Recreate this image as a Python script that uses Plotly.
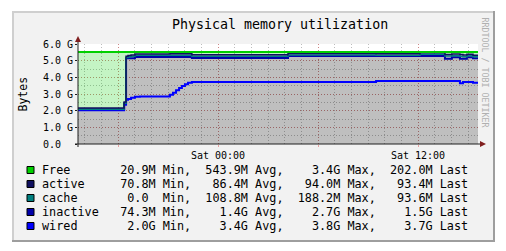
import plotly.graph_objects as go

# ---------------- data ----------------
times = [
    "2010-01-08 15:36", "2010-01-08 18:14", "2010-01-08 18:22", "2010-01-08 18:29",
    "2010-01-08 18:36", "2010-01-08 18:47", "2010-01-08 19:01", "2010-01-08 19:19",
    "2010-01-08 21:07", "2010-01-08 21:18", "2010-01-08 21:29", "2010-01-08 21:40",
    "2010-01-08 21:50", "2010-01-08 22:01", "2010-01-08 22:12", "2010-01-08 22:26",
    "2010-01-09 04:12", "2010-01-09 09:29", "2010-01-09 12:07", "2010-01-09 13:37",
    "2010-01-09 14:02", "2010-01-09 14:31", "2010-01-09 14:42", "2010-01-09 14:56",
    "2010-01-09 15:18", "2010-01-09 15:36",
]
# values in GB
wired = [2.02, 2.02, 2.35, 2.65, 2.70, 2.78, 2.83, 2.85, 2.95, 3.08, 3.22, 3.36, 3.48,
         3.58, 3.67, 3.72, 3.72, 3.78, 3.78, 3.78, 3.78, 3.65, 3.72, 3.72, 3.68, 3.68]
inactive = [0.07, 0.07, 0.10, 2.50, 2.45, 2.37, 2.39, 2.37, 2.27, 2.14, 2.00, 1.86, 1.74,
            1.64, 1.55, 1.44, 1.56, 1.50, 1.50, 1.34, 1.42, 1.47, 1.40, 1.48, 1.46, 1.46]
cache = [0.0, 0.0, 0.0, 0.04, 0.08, 0.11, 0.11, 0.11, 0.11, 0.11, 0.11, 0.11, 0.11,
         0.11, 0.11, 0.11, 0.06, 0.05, 0.10, 0.16, 0.10, 0.15, 0.12, 0.09, 0.09, 0.09]
active = [0.071, 0.071, 0.071, 0.075, 0.075, 0.075, 0.075, 0.075, 0.082, 0.082, 0.082,
          0.082, 0.082, 0.082, 0.082, 0.082, 0.088, 0.088, 0.093, 0.093, 0.093, 0.093,
          0.093, 0.093, 0.093, 0.093]
free = [3.36, 3.36, 3.00, 0.26, 0.22, 0.19, 0.12, 0.12, 0.11, 0.11, 0.11, 0.11, 0.11,
        0.11, 0.11, 0.17, 0.09, 0.10, 0.05, 0.15, 0.13, 0.16, 0.19, 0.14, 0.20, 0.20]

x_tick_vals = ["2010-01-08 18:00", "2010-01-09 00:00", "2010-01-09 06:00", "2010-01-09 12:00"]
x_tick_text = ["", "Sat 00:00", "", "Sat 12:00"]
y_tick_vals = [0, 1, 2, 3, 4, 5, 6]
y_tick_text = ["0.0\u00a0\u00a0", "1.0 G", "2.0 G", "3.0 G", "4.0 G", "5.0 G", "6.0 G"]

legend_names = ["Free", "active", "cache", "inactive", "wired"]
legend_min = [(20.9, "M"), (70.8, "M"), (0.0, " "), (74.3, "M"), (2.0, "G")]
legend_avg = [(543.9, "M"), (86.4, "M"), (108.8, "M"), (1.4, "G"), (3.4, "G")]
legend_max = [(3.4, "G"), (94.0, "M"), (188.2, "M"), (2.7, "G"), (3.8, "G")]
legend_last = [(202.0, "M"), (93.4, "M"), (93.6, "M"), (1.5, "G"), (3.7, "G")]

# ---------------- style ----------------
MONO = "DejaVu Sans Mono"
colors = {"Free": "#00d000", "active": "#101060", "cache": "#008080",
          "inactive": "#0000aa", "wired": "#0000ff"}
GRAY_FILL = "rgba(0,0,0,0.25)"
GREEN_FILL = "rgba(0,208,0,0.23)"
GRID = "rgba(143,143,143,0.6)"
MGRID = "rgba(222,79,79,0.5)"
AXIS = "#1f1f1f"
ARROW = "#801f1f"

W, H = 506, 251
L, R, T, B = 78, 478, 44, 144


def px(x):
    return (x - L) / (R - L)


def py(y):
    return (B - y) / (B - T)


fig = go.Figure()
stack = [("wired", wired, GRAY_FILL, 2), ("inactive", inactive, GRAY_FILL, 2),
         ("cache", cache, GRAY_FILL, 1.5), ("active", active, GRAY_FILL, 1.5),
         ("Free", free, GREEN_FILL, 2)]
for name, vals, fc, lw in stack:
    fig.add_trace(go.Scatter(
        x=times, y=vals, name=name, stackgroup="mem", mode="lines",
        line=dict(color=colors[name], width=lw, shape="hv"),
        fillcolor=fc, showlegend=False, hoverinfo="skip"))

shapes = []
# white surroundings of the panel
for x0, x1, y0, y1 in [(0, 12, 0, H), (495, W, 0, H), (0, W, 0, 11), (0, W, 242, H)]:
    shapes.append(dict(type="rect", xref="paper", yref="paper", x0=px(x0), x1=px(x1),
                       y0=py(y1), y1=py(y0), fillcolor="white", line=dict(width=0)))
# 3D frame
for x0, x1, y0, y1, c in [(12, 14, 11, 242, "#cfcfcf"), (12, 495, 11, 13, "#cfcfcf"),
                          (493, 495, 11, 242, "#9e9e9e"), (12, 495, 240, 242, "#9e9e9e")]:
    shapes.append(dict(type="rect", xref="paper", yref="paper", x0=px(x0), x1=px(x1),
                       y0=py(y1), y1=py(y0), fillcolor=c, line=dict(width=0)))
# axes with arrows
shapes.append(dict(type="line", xref="paper", yref="paper", x0=px(75), x1=px(481),
                   y0=0, y1=0, line=dict(color=AXIS, width=1)))
shapes.append(dict(type="line", xref="paper", yref="paper", x0=0, x1=0,
                   y0=py(147), y1=py(40), line=dict(color=AXIS, width=1)))
shapes.append(dict(type="path", xref="paper", yref="paper",
                   path=f"M {px(486)} {py(144)} L {px(480)} {py(141)} L {px(480)} {py(147)} Z",
                   fillcolor=ARROW, line=dict(width=0)))
shapes.append(dict(type="path", xref="paper", yref="paper",
                   path=f"M {px(78)} {py(36)} L {px(75)} {py(42)} L {px(81)} {py(42)} Z",
                   fillcolor=ARROW, line=dict(width=0)))

annotations = []
annotations.append(dict(text="Physical memory utilization", x=px(279.5), y=py(24),
                        xref="paper", yref="paper", showarrow=False, xanchor="center",
                        yanchor="middle", font=dict(family=MONO, size=13.3, color="black")))
annotations.append(dict(text="Bytes", x=px(22), y=py(93.5), xref="paper", yref="paper",
                        showarrow=False, textangle=-90, xanchor="center", yanchor="middle",
                        font=dict(family=MONO, size=11.5, color="black")))
annotations.append(dict(text="RRDTOOL / TOBI OETIKER", x=px(484.5), y=py(72),
                        xref="paper", yref="paper", showarrow=False, textangle=90,
                        xanchor="center", yanchor="middle",
                        font=dict(family=MONO, size=8.3, color="#b0b0b0")))


def fmt(v):
    return f"{v[0]:6.1f}{v[1]}"


for i, name in enumerate(legend_names):
    yc = 170 + 14 * i
    shapes.append(dict(type="rect", xref="paper", yref="paper", x0=px(27), x1=px(34),
                       y0=py(yc + 3.5), y1=py(yc - 3.5), fillcolor=colors[name],
                       line=dict(color="#000000", width=1)))
    line = (f"{name:<8} {fmt(legend_min[i])} Min, {fmt(legend_avg[i])} Avg, "
            f"{fmt(legend_max[i])} Max, {fmt(legend_last[i])} Last")
    annotations.append(dict(text=line.replace(" ", "\u00a0"), x=px(42), y=py(yc),
                            xref="paper", yref="paper", showarrow=False, xanchor="left",
                            yanchor="middle", borderpad=0, borderwidth=0,
                            font=dict(family=MONO, size=11.8, color="black")))

fig.update_layout(
    width=W, height=H, autosize=False,
    margin=dict(l=L, r=W - R, t=T, b=H - B, pad=0),
    paper_bgcolor="#f2f2f2", plot_bgcolor="white",
    shapes=shapes, annotations=annotations, showlegend=False,
    xaxis=dict(type="date", range=[times[0], times[-1]], tickmode="array",
               tickvals=x_tick_vals, ticktext=x_tick_text, showgrid=True,
               gridcolor=MGRID, griddash="1px,2px", gridwidth=1, zeroline=False,
               showline=False, ticks="outside", ticklen=2, tickcolor=MGRID,
               tickfont=dict(family=MONO, size=10, color="black"), fixedrange=True,
               minor=dict(tickmode="linear", tick0="2010-01-08 00:00", dtick=3600000,
                          showgrid=True, gridcolor=GRID, griddash="1px,2px", gridwidth=1)),
    yaxis=dict(range=[0, 6], tickmode="array", tickvals=y_tick_vals, ticktext=y_tick_text,
               showgrid=True, gridcolor=MGRID, griddash="1px,2px", gridwidth=1,
               zeroline=False, showline=False, ticks="outside", ticklen=2, tickcolor=AXIS,
               tickfont=dict(family=MONO, size=10, color="black"), fixedrange=True,
               minor=dict(tickmode="linear", tick0=0, dtick=0.5, showgrid=True,
                          gridcolor=GRID, griddash="1px,2px", gridwidth=1)),
)

fig.write_html("out.html")
